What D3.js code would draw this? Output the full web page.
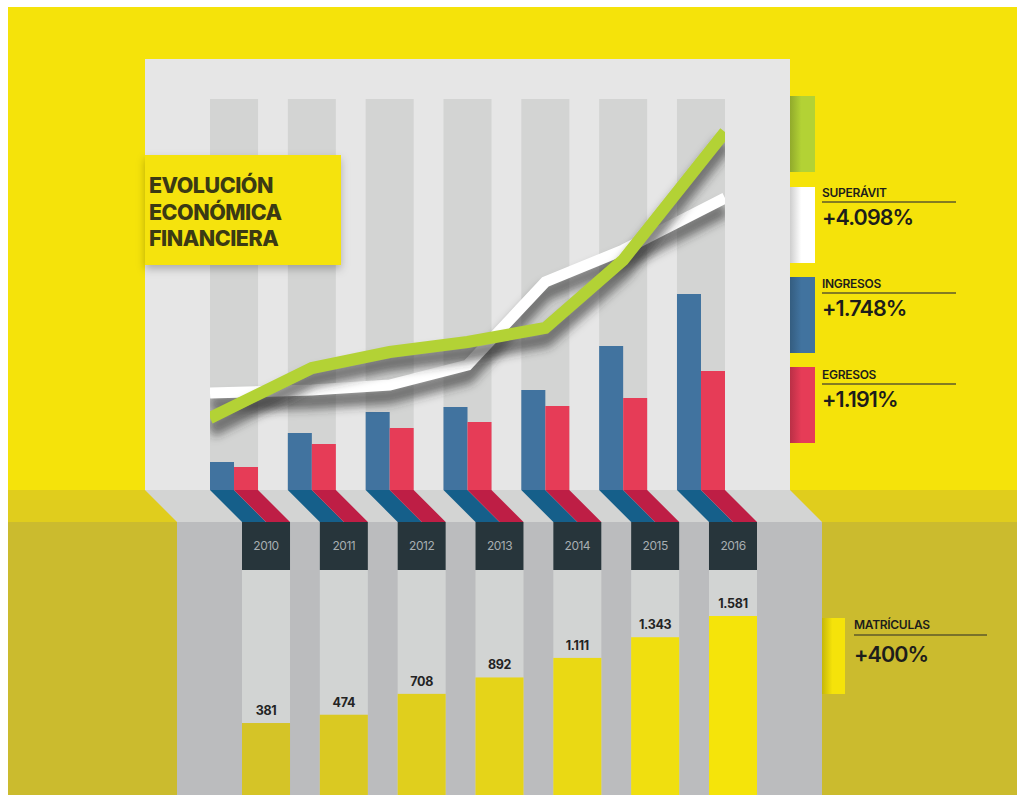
<!DOCTYPE html>
<meta charset="utf-8">
<style>
  body {
    margin: 0;
    background: #fff;
    font-family: "Inter", "Lato", sans-serif;
  }
  .year-label {
    font-size: 12px;
    fill: #a7aeb1;
    text-anchor: middle;
    letter-spacing: -0.5px;
  }
  .value-label {
    font-size: 12.5px;
    font-weight: 700;
    fill: #232323;
    text-anchor: middle;
    letter-spacing: -0.3px;
  }
  .title {
    font-size: 21.5px;
    font-weight: 800;
    fill: #3b3a14;
    letter-spacing: -0.5px;
  }
  .leg-name {
    font-size: 12px;
    font-weight: 600;
    fill: #1d1d1b;
    letter-spacing: -0.3px;
  }
  .leg-value {
    font-size: 21.5px;
    font-weight: 600;
    fill: #1d1d1b;
    letter-spacing: -0.9px;
  }
</style>
<body>
<div id="chart"></div>
<script src="https://d3js.org/d3.v7.min.js"></script>
<script>
// data
const years = [2010, 2011, 2012, 2013, 2014, 2015, 2016];
const ingresos = [28, 57, 78, 83, 100, 144, 196];
const egresos = [23, 46, 62, 68, 84, 92, 119];
const superavitLine = [72, 122, 138, 148, 162, 230, 358];   // green line
const tendenciaLine = [97, 100, 105, 125, 208, 240, 292];   // white line
const matriculas = [381, 474, 708, 892, 1111, 1343, 1581];
const matriculasText = ["381", "474", "708", "892", "1.111", "1.343", "1.581"];
const titleLines = ["EVOLUCIÓN", "ECONÓMICA", "FINANCIERA"];
const legendNames = ["", "SUPERÁVIT", "INGRESOS", "EGRESOS"];
const legendValues = ["", "+4.098%", "+1.748%", "+1.191%"];
const legendColors = ["#b3d235", "#ffffff", "#41739f", "#e63c57"];

const W = 1017, H = 795;

var svg = d3.select("#chart").append("svg")
  .attr("width", W)
  .attr("height", H);

var defs = svg.append("defs");

// blur for the shadows
var blur = defs.append("filter").attr("id", "blur")
  .attr("x", "-20%").attr("y", "-50%").attr("width", "140%").attr("height", "200%");
blur.append("feGaussianBlur").attr("stdDeviation", 5);

var boxShadow = defs.append("filter").attr("id", "boxshadow")
  .attr("x", "-10%").attr("y", "-20%").attr("width", "120%").attr("height", "150%");
boxShadow.append("feDropShadow")
  .attr("dx", 0).attr("dy", 4).attr("stdDeviation", 4)
  .attr("flood-color", "#000").attr("flood-opacity", 0.25);

defs.append("clipPath").attr("id", "lineclip")
  .append("rect").attr("x", 210).attr("y", 59).attr("width", 515).attr("height", 431);

// swatch gradients, darker on the left edge
function swatchGrad(id, color) {
  var g = defs.append("linearGradient").attr("id", id)
    .attr("x1", "0%").attr("x2", "100%").attr("y1", "0%").attr("y2", "0%");
  g.append("stop").attr("offset", "0%").attr("stop-color", d3.color(color).darker(0.6));
  g.append("stop").attr("offset", "45%").attr("stop-color", color);
  g.append("stop").attr("offset", "100%").attr("stop-color", color);
}
legendColors.forEach(function(c, i) { swatchGrad("sw" + i, c); });
swatchGrad("swM", "#f5e30a");

// scales
var xTop = d3.scaleBand().domain(years).range([210, 725]).paddingInner(0.383).paddingOuter(0);
var xBot = d3.scaleBand().domain(years).range([242, 757]).paddingInner(0.383).paddingOuter(0);
var yTop = d3.scaleLinear().domain([0, 200]).range([490, 290]);
var yBot = d3.scaleLinear().domain([0, 1581]).range([757, 616]);
var bw = xTop.bandwidth();
var yellowScale = d3.scaleLinear().domain([0, years.length - 1]).range(["#d5c427", "#f5e40a"]);

// backgrounds
svg.append("rect").attr("x", 8).attr("y", 7).attr("width", W - 8).attr("height", H - 7).attr("fill", "#f5e30a");
svg.append("rect").attr("x", 8).attr("y", 490).attr("width", W - 8).attr("height", 32).attr("fill", "#e0cd1d");
svg.append("rect").attr("x", 8).attr("y", 522).attr("width", W - 8).attr("height", H - 522).attr("fill", "#cbbb2e");

// top panel + columns
svg.append("rect").attr("x", 145).attr("y", 59).attr("width", 645).attr("height", 431).attr("fill", "#e6e6e6");
svg.selectAll("rect.col").data(years).enter().append("rect")
  .attr("class", "col")
  .attr("x", function(d) { return xTop(d); })
  .attr("y", 99)
  .attr("width", bw)
  .attr("height", 490 - 99)
  .attr("fill", "#d3d4d3");

// bottom area
svg.append("polygon").attr("points", "145,490 790,490 822,522 177,522").attr("fill", "#d3d4d3");
svg.append("rect").attr("x", 177).attr("y", 522).attr("width", 645).attr("height", H - 522).attr("fill", "#bbbcbe");
svg.selectAll("rect.bcol").data(years).enter().append("rect")
  .attr("class", "bcol")
  .attr("x", function(d) { return xBot(d); })
  .attr("y", 522)
  .attr("width", bw)
  .attr("height", H - 522)
  .attr("fill", "#d2d4d3");

// bars
var half = bw / 2;
svg.selectAll("rect.ing").data(ingresos).enter().append("rect")
  .attr("x", function(d, i) { return xTop(years[i]); })
  .attr("y", function(d) { return yTop(d); })
  .attr("width", half)
  .attr("height", function(d) { return yTop(0) - yTop(d); })
  .attr("fill", "#41739f");
svg.selectAll("rect.egr").data(egresos).enter().append("rect")
  .attr("x", function(d, i) { return xTop(years[i]) + half; })
  .attr("y", function(d) { return yTop(d); })
  .attr("width", half)
  .attr("height", function(d) { return yTop(0) - yTop(d); })
  .attr("fill", "#e63c57");

// slanted strips from bars down to year boxes
function strip(offset, color) {
  svg.selectAll(null).data(years).enter().append("polygon")
    .attr("points", function(d) {
      var a = xTop(d) + offset, b = xBot(d) + offset;
      return [[a, 490], [a + half, 490], [b + half, 522], [b, 522]].join(" ");
    })
    .attr("fill", color);
}
strip(0, "#155f8a");
strip(half, "#be1e45");

// lines
function px(d, i) {
  var f = i === 0 ? 0 : (i === years.length - 1 ? 1 : 0.5);
  return xTop(years[i]) + bw * f;
}
var line = d3.line().x(function(d, i) { return px(d, i); }).y(function(d) { return yTop(d); });

var lines = svg.append("g").attr("clip-path", "url(#lineclip)");
function drawLine(vals, color, w) {
  lines.append("path")
    .attr("d", line(vals))
    .attr("fill", "none")
    .attr("stroke", "#2d2d2d")
    .attr("stroke-width", w + 5)
    .attr("stroke-opacity", 0.6)
    .attr("stroke-linejoin", "miter")
    .attr("transform", "translate(0,11)")
    .attr("filter", "url(#blur)");
  lines.append("path")
    .attr("d", line(vals))
    .attr("fill", "none")
    .attr("stroke", color)
    .attr("stroke-width", w)
    .attr("stroke-linejoin", "miter");
}
drawLine(tendenciaLine, "#ffffff", 11);
drawLine(superavitLine, "#b3d235", 12);

// title box
svg.append("rect").attr("x", 145).attr("y", 155).attr("width", 196).attr("height", 110)
  .attr("fill", "#f5e30a").attr("filter", "url(#boxshadow)");
svg.selectAll("text.title").data(titleLines).enter().append("text")
  .attr("class", "title")
  .attr("x", 149)
  .attr("y", function(d, i) { return 193 + i * 26.5; })
  .text(function(d) { return d; });

// year boxes
svg.selectAll("rect.ybox").data(years).enter().append("rect")
  .attr("x", function(d) { return xBot(d); })
  .attr("y", 522)
  .attr("width", bw)
  .attr("height", 48)
  .attr("fill", "#27353b");
svg.selectAll("text.year-label").data(years).enter().append("text")
  .attr("class", "year-label")
  .attr("x", function(d) { return xBot(d) + bw / 2; })
  .attr("y", 550)
  .text(function(d) { return d; });

// matriculas bars
svg.selectAll("rect.mat").data(matriculas).enter().append("rect")
  .attr("x", function(d, i) { return xBot(years[i]); })
  .attr("y", function(d) { return yBot(d); })
  .attr("width", bw)
  .attr("height", function(d) { return H - yBot(d); })
  .attr("fill", function(d, i) { return yellowScale(i); });
svg.selectAll("text.value-label").data(matriculas).enter().append("text")
  .attr("class", "value-label")
  .attr("x", function(d, i) { return xBot(years[i]) + bw / 2; })
  .attr("y", function(d) { return yBot(d) - 8; })
  .text(function(d, i) { return matriculasText[i]; });

// legend
var legTop = [96, 187, 277, 367];
legendColors.forEach(function(c, i) {
  svg.append("rect").attr("x", 790).attr("y", legTop[i]).attr("width", 25).attr("height", 76)
    .attr("fill", "url(#sw" + i + ")");
});
var labelY = [0, 197, 288, 379];
for (var i = 1; i < legendNames.length; i++) {
  svg.append("text").attr("class", "leg-name").attr("x", 822).attr("y", labelY[i]).text(legendNames[i]);
  svg.append("line").attr("x1", 822).attr("x2", 956).attr("y1", labelY[i] + 5).attr("y2", labelY[i] + 5)
    .attr("stroke", "#5e5a2a").attr("stroke-width", 1.3);
  svg.append("text").attr("class", "leg-value").attr("x", 822).attr("y", labelY[i] + 28).text(legendValues[i]);
}

svg.append("rect").attr("x", 822).attr("y", 618).attr("width", 23).attr("height", 76).attr("fill", "url(#swM)");
svg.append("text").attr("class", "leg-name").attr("x", 854).attr("y", 629).text("MATRÍCULAS");
svg.append("line").attr("x1", 854).attr("x2", 987).attr("y1", 635).attr("y2", 635)
  .attr("stroke", "#5e5a2a").attr("stroke-width", 1.3);
svg.append("text").attr("class", "leg-value").attr("x", 854).attr("y", 662).text("+400%");
</script>
</body>
